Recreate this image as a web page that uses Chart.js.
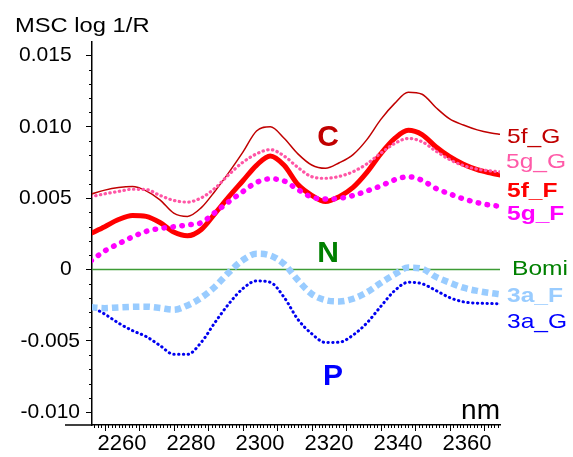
<!DOCTYPE html>
<html>
<head>
<meta charset="utf-8">
<title>MSC log 1/R</title>
<script src="https://cdn.jsdelivr.net/npm/chart.js@4.4.1/dist/chart.umd.min.js"></script>
<style>
  html, body { margin: 0; padding: 0; background: #fff; }
  #grafico { display: block; }
</style>
</head>
<body>
<canvas id="grafico" width="573" height="457"></canvas>
<script>
// comprimentos de onda (nm)
const wavelengths = [2251, 2255, 2259, 2263, 2267, 2271, 2275, 2279, 2283, 2287, 2291,
    2295, 2299, 2303, 2307, 2311, 2315, 2319, 2323, 2327, 2331, 2335, 2339, 2343,
    2347, 2351, 2355, 2359, 2363, 2367, 2370];

// MSC log 1/R de cada amostra
const f5G = [0.00528, 0.00556, 0.00574, 0.00581, 0.00551, 0.00488, 0.00395, 0.00372, 0.00433, 0.00550, 0.00680,
    0.00820, 0.00970, 0.01000, 0.00920, 0.00810, 0.00732, 0.00709, 0.00748, 0.00805, 0.00910, 0.01050, 0.01162, 0.01242,
    0.01228, 0.01135, 0.01055, 0.01012, 0.00978, 0.00956, 0.00946];
const g5G = [0.00510, 0.00530, 0.00547, 0.00562, 0.00560, 0.00519, 0.00484, 0.00472, 0.00502, 0.00570, 0.00665,
    0.00750, 0.00810, 0.00840, 0.00795, 0.00715, 0.00650, 0.00639, 0.00652, 0.00685, 0.00740, 0.00814, 0.00882, 0.00918,
    0.00895, 0.00830, 0.00770, 0.00728, 0.00703, 0.00690, 0.00683];
const f5F = [0.00253, 0.00300, 0.00350, 0.00379, 0.00372, 0.00329, 0.00262, 0.00236, 0.00280, 0.00393, 0.00510,
    0.00620, 0.00730, 0.00795, 0.00730, 0.00595, 0.00520, 0.00476, 0.00510, 0.00575, 0.00680, 0.00810, 0.00917, 0.00975,
    0.00945, 0.00860, 0.00790, 0.00737, 0.00699, 0.00675, 0.00660];
const g5F = [0.00060, 0.00130, 0.00180, 0.00228, 0.00267, 0.00287, 0.00299, 0.00312, 0.00328, 0.00400, 0.00475,
    0.00545, 0.00610, 0.00635, 0.00620, 0.00560, 0.00507, 0.00493, 0.00498, 0.00518, 0.00550, 0.00585, 0.00628, 0.00650,
    0.00625, 0.00568, 0.00530, 0.00495, 0.00468, 0.00450, 0.00442];
const bomi = [0, 0, 0, 0, 0, 0, 0, 0, 0, 0, 0, 0, 0, 0, 0, 0, 0, 0, 0, 0, 0, 0, 0, 0, 0, 0, 0, 0, 0, 0, 0];
const a3F = [-0.00265, -0.00271, -0.00266, -0.00262, -0.00261, -0.00270, -0.00282, -0.00252, -0.00198, -0.00120, -0.00020,
    0.00065, 0.00110, 0.00098, 0.00038, -0.00075, -0.00172, -0.00215, -0.00224, -0.00205, -0.00160, -0.00095, -0.00035, 0.00013,
    0.00005, -0.00052, -0.00092, -0.00128, -0.00150, -0.00166, -0.00175];
const a3G = [-0.00260, -0.00313, -0.00376, -0.00428, -0.00470, -0.00533, -0.00595, -0.00595, -0.00510, -0.00370, -0.00240,
    -0.00135, -0.00080, -0.00090, -0.00195, -0.00350, -0.00450, -0.00512, -0.00510, -0.00460, -0.00375, -0.00260, -0.00150, -0.00090,
    -0.00100, -0.00147, -0.00197, -0.00227, -0.00236, -0.00239, -0.00242];

const xTicks = [2260, 2280, 2300, 2320, 2340, 2360];
const yTicks = [-0.010, -0.005, 0, 0.005, 0.010, 0.015];

const FONTE = '"Liberation Sans", Arial, sans-serif';

function pontos(valores) {
    return wavelengths.map((nm, i) => ({ x: nm, y: valores[i] }));
}

// rótulos das séries na direita e letras no gráfico
const etiquetas = [
    { texto: '5f_G', cor: '#c00000', negrito: false, x: 507, y: 143 },
    { texto: '5g_G', cor: '#ff5aa8', negrito: false, x: 506, y: 168 },
    { texto: '5f_F', cor: '#ff0000', negrito: true, x: 507, y: 197 },
    { texto: '5g_F', cor: '#ff00ff', negrito: true, x: 507, y: 220 },
    { texto: 'Bomi', cor: '#008000', negrito: false, x: 512, y: 275 },
    { texto: '3a_F', cor: '#99ccff', negrito: true, x: 507, y: 302 },
    { texto: '3a_G', cor: '#0000ff', negrito: false, x: 507, y: 328 }
];
const letras = [
    { texto: 'C', cor: '#c00000', x: 328, y: 146 },
    { texto: 'N', cor: '#008000', x: 328, y: 262 },
    { texto: 'P', cor: '#0000ff', x: 333, y: 385 }
];

function escreve(ctx, texto, x, y, fonte, cor, alinhamento, esticar) {
    ctx.save();
    ctx.translate(x, y);
    ctx.scale(esticar, 1);
    ctx.font = fonte;
    ctx.fillStyle = cor;
    ctx.textAlign = alinhamento;
    ctx.textBaseline = 'alphabetic';
    ctx.fillText(texto, 0, 0);
    ctx.restore();
}

const extras = {
    id: 'extras',
    afterDraw(chart) {
        const ctx = chart.ctx;
        const area = chart.chartArea;
        const sx = chart.scales.x;
        const sy = chart.scales.y;
        ctx.save();
        ctx.strokeStyle = '#000';
        ctx.lineWidth = 1;

        // ticks menores do eixo y
        for (let k = -10; k <= 15; k++) {
            if (k % 5 === 0) continue;
            const py = Math.round(sy.getPixelForValue(k / 1000)) + 0.5;
            ctx.beginPath();
            ctx.moveTo(area.left - 3, py);
            ctx.lineTo(area.left, py);
            ctx.stroke();
        }
        // ticks do eixo x (1 nm, maiores a cada 10)
        for (let nm = 2252; nm <= 2369; nm++) {
            const px = Math.round(sx.getPixelForValue(nm)) + 0.5;
            const len = (nm - 2255) % 10 === 0 ? 6 : 3;
            ctx.beginPath();
            ctx.moveTo(px, area.bottom);
            ctx.lineTo(px, area.bottom + len);
            ctx.stroke();
        }
        // eixo x continua para a esquerda
        ctx.lineWidth = 1.5;
        ctx.beginPath();
        ctx.moveTo(65, area.bottom);
        ctx.lineTo(area.left, area.bottom);
        ctx.stroke();

        escreve(ctx, 'MSC log 1/R', 15, 32, '21px ' + FONTE, '#000', 'left', 1.13);
        escreve(ctx, 'nm', 500, 419, '28px ' + FONTE, '#000', 'right', 1);

        etiquetas.forEach(e => {
            escreve(ctx, e.texto, e.x, e.y, (e.negrito ? 'bold ' : '') + '21px ' + FONTE, e.cor, 'left', 1.17);
        });
        letras.forEach(l => {
            escreve(ctx, l.texto, l.x, l.y, 'bold 30px ' + FONTE, l.cor, 'center', 1);
        });
        ctx.restore();
    }
};

const ctx = document.getElementById('grafico').getContext('2d');
new Chart(ctx, {
    type: 'line',
    data: {
        datasets: [
            { label: '5g_F', data: pontos(g5F), borderColor: '#ff00ff', borderWidth: 5.5, borderDash: [0.5, 8.5], borderCapStyle: 'round' },
            { label: '5g_G', data: pontos(g5G), borderColor: '#ff55a5', borderWidth: 3.2, borderDash: [0.4, 4.4], borderCapStyle: 'round' },
            { label: '5f_F', data: pontos(f5F), borderColor: '#ff0000', borderWidth: 5 },
            { label: '5f_G', data: pontos(f5G), borderColor: '#c00000', borderWidth: 1.5 },
            { label: '3a_F', data: pontos(a3F), borderColor: '#99ccff', borderWidth: 6.5, borderDash: [6.5, 4] },
            { label: '3a_G', data: pontos(a3G), borderColor: '#0000f0', borderWidth: 3, borderDash: [0.4, 4.4], borderCapStyle: 'round' },
            { label: 'Bomi', data: pontos(bomi), borderColor: '#3d9b35', borderWidth: 1.5 }
        ]
    },
    options: {
        responsive: false,
        animation: false,
        devicePixelRatio: 1,
        elements: {
            point: { radius: 0 },
            line: { cubicInterpolationMode: 'monotone', fill: false }
        },
        layout: { padding: { top: 42, right: 73, bottom: 0, left: 0 } },
        plugins: {
            legend: { display: false },
            tooltip: { enabled: false }
        },
        scales: {
            x: {
                type: 'linear',
                min: 2251.3,
                max: 2369.6,
                border: { color: '#000', width: 1.5 },
                grid: { drawOnChartArea: false, drawTicks: false },
                afterBuildTicks: (scale) => { scale.ticks = xTicks.map(v => ({ value: v })); },
                ticks: {
                    autoSkip: false,
                    maxRotation: 0,
                    padding: 6,
                    color: '#000',
                    font: { family: FONTE, size: 22 },
                    callback: (v) => String(v)
                },
                afterFit: (scale) => { scale.height = 32; }
            },
            y: {
                min: -0.0109,
                max: 0.01594,
                border: { color: '#000', width: 1.5 },
                grid: { drawOnChartArea: false, tickLength: 6, color: '#000', lineWidth: 1 },
                afterBuildTicks: (scale) => { scale.ticks = yTicks.map(v => ({ value: v })); },
                ticks: {
                    padding: 6,
                    color: '#000',
                    font: { family: FONTE, size: 21 },
                    callback: (v) => {
                        if (Math.abs(v) < 1e-9) return '0\u2009\u2009';
                        const s = v.toFixed(3);
                        return v > 0 ? s + '\u2009\u2009' : s;
                    }
                },
                afterFit: (scale) => { scale.width = 92; }
            }
        }
    },
    plugins: [extras]
});
</script>
</body>
</html>
